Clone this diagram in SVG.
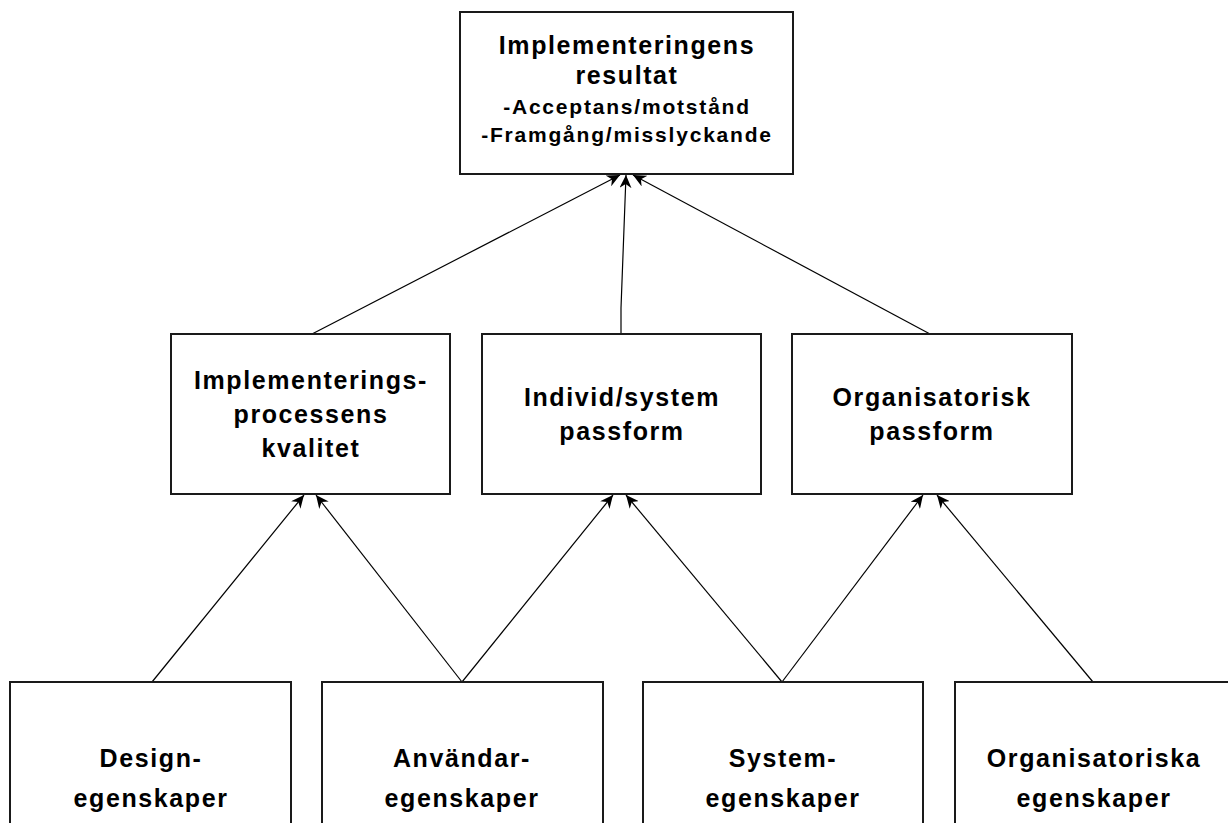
<svg xmlns="http://www.w3.org/2000/svg" width="1228" height="823" viewBox="0 0 1228 823">
<defs>
<style>
.box{fill:#fff;stroke:#1a1a1a;stroke-width:2}
.t{font-family:"Liberation Sans",Arial,sans-serif;font-weight:bold;font-size:25px;letter-spacing:1.6px;text-anchor:middle;fill:#000}
.s{font-size:21px;letter-spacing:1.8px}
.c{fill:none;stroke:#000;stroke-width:1.2}
</style>
<marker id="ah" viewBox="0 0 13 12" refX="13" refY="6" markerWidth="13" markerHeight="12" markerUnits="userSpaceOnUse" orient="auto">
<path d="M0,0 L13,6 L0,12 L4,6 z" fill="#000"/>
</marker>
</defs>
<rect width="1228" height="823" fill="#fff"/>
<g id="connectors">
<line class="c" x1="312" y1="334" x2="620" y2="175" marker-end="url(#ah)"/>
<polyline class="c" points="621,334 621,308 626,175" marker-end="url(#ah)"/>
<line class="c" x1="930" y1="334" x2="633" y2="175" marker-end="url(#ah)"/>
<line class="c" x1="152" y1="682" x2="304" y2="495" marker-end="url(#ah)"/>
<line class="c" x1="462" y1="682" x2="316" y2="495" marker-end="url(#ah)"/>
<line class="c" x1="462" y1="682" x2="613" y2="495" marker-end="url(#ah)"/>
<line class="c" x1="782" y1="682" x2="626" y2="495" marker-end="url(#ah)"/>
<line class="c" x1="782" y1="682" x2="923" y2="495" marker-end="url(#ah)"/>
<line class="c" x1="1093" y1="682" x2="937" y2="495" marker-end="url(#ah)"/>
</g>
<g id="n_resultat">
<rect class="box" x="460" y="12" width="333" height="162"/>
<text class="t" x="627" y="54">Implementeringens</text>
<text class="t" x="627" y="84">resultat</text>
<text class="t s" x="627" y="114">-Acceptans/motstånd</text>
<text class="t s" x="627" y="142">-Framgång/misslyckande</text>
</g>
<g id="n_process">
<rect class="box" x="171" y="334" width="279" height="160"/>
<text class="t" x="311" y="389">Implementerings-</text>
<text class="t" x="311" y="423">processens</text>
<text class="t" x="311" y="457">kvalitet</text>
</g>
<g id="n_individ">
<rect class="box" x="482" y="334" width="279" height="160"/>
<text class="t" x="622" y="406">Individ/system</text>
<text class="t" x="622" y="440">passform</text>
</g>
<g id="n_org">
<rect class="box" x="792" y="334" width="280" height="160"/>
<text class="t" x="932" y="406">Organisatorisk</text>
<text class="t" x="932" y="440">passform</text>
</g>
<g id="n_design">
<rect class="box" x="10" y="682" width="281" height="150"/>
<text class="t" x="151" y="767">Design-</text>
<text class="t" x="151" y="807">egenskaper</text>
</g>
<g id="n_anvandar">
<rect class="box" x="322" y="682" width="281" height="150"/>
<text class="t" x="462" y="767">Användar-</text>
<text class="t" x="462" y="807">egenskaper</text>
</g>
<g id="n_system">
<rect class="box" x="643" y="682" width="280" height="150"/>
<text class="t" x="783" y="767">System-</text>
<text class="t" x="783" y="807">egenskaper</text>
</g>
<g id="n_orgegen">
<rect class="box" x="955" y="682" width="280" height="150"/>
<text class="t" x="1094" y="767">Organisatoriska</text>
<text class="t" x="1094" y="807">egenskaper</text>
</g>
</svg>
